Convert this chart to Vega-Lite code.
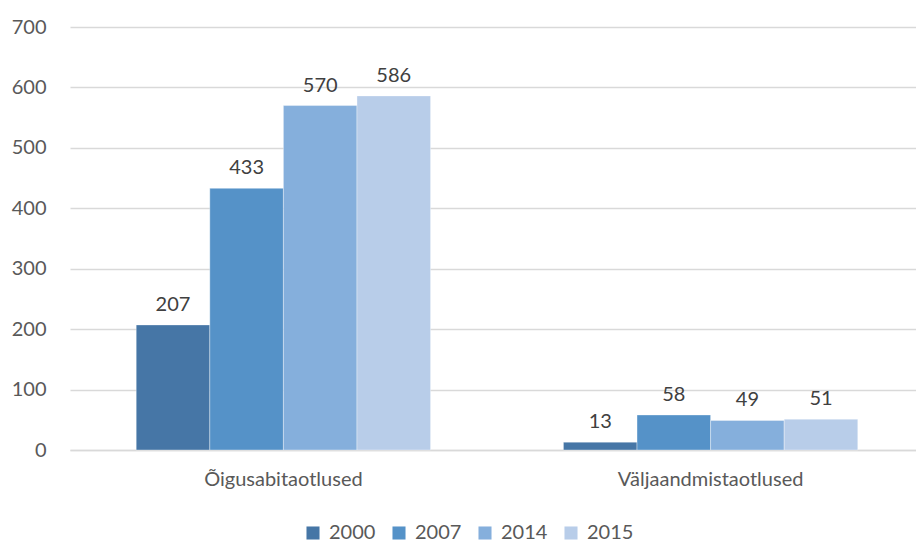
{
  "$schema": "https://vega.github.io/schema/vega-lite/v6.json",
  "autosize": {"type": "none"},
  "padding": {"left": 70, "top": 27, "right": 0, "bottom": 92},
  "width": 854,
  "height": 423,
  "background": "white",
  "data": {"values": [
    {"cat": "Õigusabitaotlused", "year": "2000", "value": 207},
    {"cat": "Õigusabitaotlused", "year": "2007", "value": 433},
    {"cat": "Õigusabitaotlused", "year": "2014", "value": 570},
    {"cat": "Õigusabitaotlused", "year": "2015", "value": 586},
    {"cat": "Väljaandmistaotlused", "year": "2000", "value": 13},
    {"cat": "Väljaandmistaotlused", "year": "2007", "value": 58},
    {"cat": "Väljaandmistaotlused", "year": "2014", "value": 49},
    {"cat": "Väljaandmistaotlused", "year": "2015", "value": 51}
  ]},
  "config": {
    "font": "Lato",
    "view": {"stroke": null}
  },
  "encoding": {
    "x": {"field": "cat", "type": "nominal", "title": null, "sort": null,
      "scale": {"paddingInner": 0.311, "paddingOuter": 0.155},
      "axis": {"labelAngle": 0, "labelFontSize": 20, "labelColor": "#595959", "labelPadding": 29, "labelBaseline": "middle", "labelLimit": 0, "ticks": false, "domainColor": "#d9d9d9", "domainWidth": 1.5, "labelFont": "Lato"}},
    "xOffset": {"field": "year", "type": "nominal", "scale": {"paddingInner": 0, "paddingOuter": 0}},
    "y": {"field": "value", "type": "quantitative", "title": null,
      "scale": {"domain": [0, 700]},
      "axis": {"values": [0, 100, 200, 300, 400, 500, 600, 700], "labelFontSize": 20, "labelColor": "#595959", "labelPadding": 24, "ticks": false, "domain": false, "gridColor": "#d9d9d9", "gridWidth": 1.5, "labelFont": "Lato"}}
  },
  "layer": [
    {
      "mark": {"type": "bar", "stroke": "white", "strokeWidth": 0.6, "strokeOpacity": 0.6},
      "encoding": {
        "color": {"field": "year", "type": "nominal",
          "scale": {"domain": ["2000", "2007", "2014", "2015"], "range": ["#4676A6", "#5592C8", "#85AFDC", "#B8CDE9"]},
          "legend": {"title": null, "orient": "none", "direction": "horizontal", "legendX": 233, "legendY": 496, "symbolType": "square", "symbolSize": 170, "symbolStrokeWidth": 0, "labelFontSize": 20, "labelColor": "#595959", "columnPadding": 13, "labelOffset": 6, "labelFont": "Lato"}}
      }
    },
    {
      "mark": {"type": "text", "baseline": "bottom", "dy": -10, "fontSize": 20, "color": "#404040", "font": "Lato"},
      "encoding": {"text": {"field": "value", "type": "quantitative"}}
    }
  ]
}
